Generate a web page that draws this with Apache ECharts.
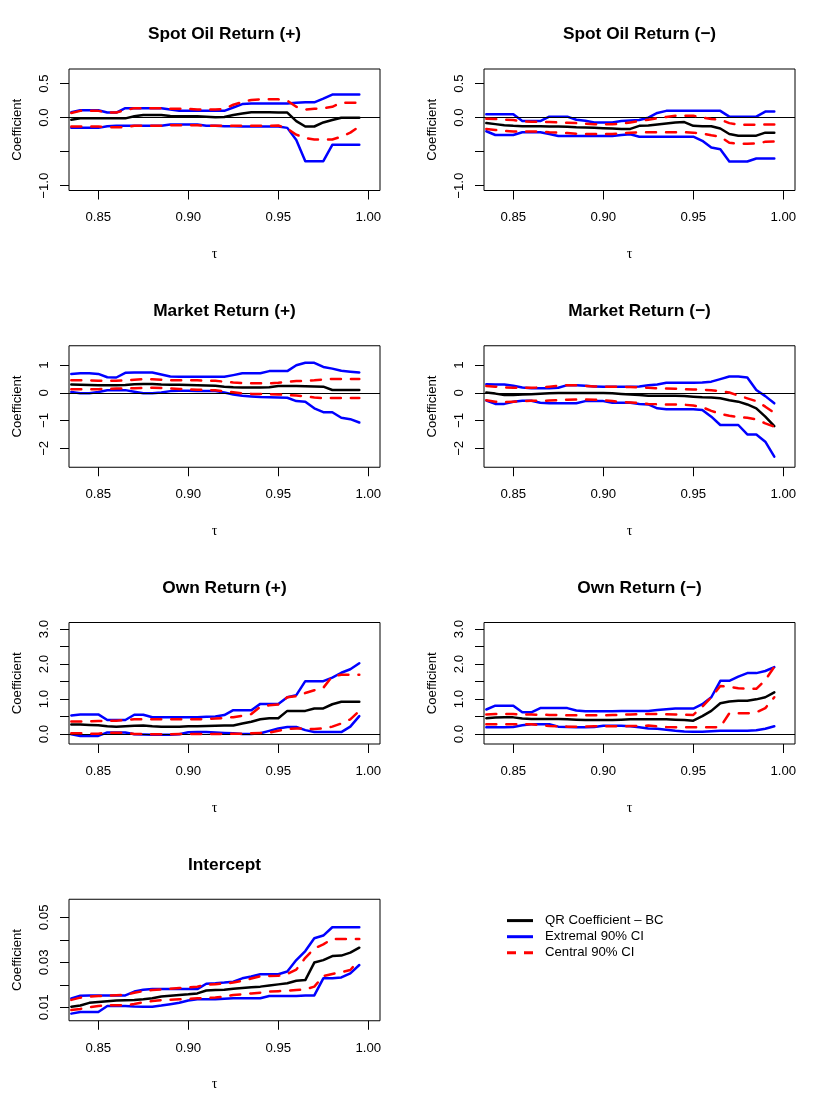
<!DOCTYPE html>
<html><head><meta charset="utf-8">
<script src="https://cdn.jsdelivr.net/npm/echarts@6/dist/echarts.min.js"></script>
<style>html,body{margin:0;padding:0;background:#fff}#c{width:830px;height:1107px}</style>
</head><body><div id="c"></div>
<script>
// ---------- data ----------
const tau = [0.835,0.84,0.845,0.85,0.855,0.86,0.865,0.87,0.875,0.88,0.885,0.89,0.895,0.90,0.905,0.91,0.915,0.92,0.925,0.93,0.935,0.94,0.945,0.95,0.955,0.96,0.965,0.97,0.975,0.98,0.985,0.99,0.995];
const xTicks = [0.85, 0.90, 0.95, 1.00];

// Spot Oil Return (+)
const spotPosCoef  = [-0.03,-0.01,-0.01,-0.01,-0.01,-0.01,-0.01,0.02,0.04,0.04,0.04,0.025,0.02,0.02,0.02,0.015,0.005,0.01,0.04,0.06,0.08,0.08,0.08,0.075,0.075,-0.05,-0.13,-0.13,-0.07,-0.035,0.0,0.0,0.0];
const spotPosExtHi = [0.08,0.11,0.11,0.11,0.075,0.075,0.14,0.14,0.14,0.14,0.14,0.12,0.10,0.10,0.10,0.10,0.10,0.10,0.15,0.20,0.21,0.21,0.21,0.21,0.21,0.22,0.225,0.225,0.28,0.34,0.34,0.34,0.34];
const spotPosExtLo = [-0.15,-0.15,-0.15,-0.15,-0.125,-0.12,-0.12,-0.12,-0.12,-0.12,-0.12,-0.10,-0.10,-0.10,-0.10,-0.12,-0.12,-0.125,-0.125,-0.13,-0.13,-0.13,-0.13,-0.13,-0.15,-0.33,-0.64,-0.64,-0.64,-0.40,-0.40,-0.40,-0.40];
const spotPosCenHi = [0.07,0.10,0.10,0.10,0.075,0.075,0.11,0.14,0.14,0.14,0.14,0.13,0.13,0.13,0.12,0.12,0.12,0.13,0.19,0.23,0.26,0.27,0.27,0.27,0.25,0.16,0.12,0.13,0.14,0.16,0.22,0.22,0.22];
const spotPosCenLo = [-0.13,-0.13,-0.13,-0.13,-0.14,-0.14,-0.14,-0.12,-0.12,-0.12,-0.12,-0.11,-0.11,-0.11,-0.11,-0.12,-0.12,-0.12,-0.12,-0.12,-0.12,-0.12,-0.12,-0.115,-0.16,-0.25,-0.30,-0.32,-0.32,-0.32,-0.28,-0.22,-0.13];

// Spot Oil Return (-)
const spotNegCoef  = [-0.08,-0.095,-0.11,-0.12,-0.125,-0.125,-0.127,-0.13,-0.13,-0.132,-0.14,-0.145,-0.15,-0.155,-0.16,-0.165,-0.165,-0.12,-0.115,-0.10,-0.085,-0.07,-0.065,-0.12,-0.125,-0.125,-0.16,-0.24,-0.265,-0.265,-0.265,-0.22,-0.22];
const spotNegExtHi = [0.05,0.05,0.05,0.05,-0.05,-0.05,-0.05,0.015,0.015,0.015,-0.03,-0.045,-0.07,-0.07,-0.07,-0.05,-0.04,-0.035,0.0,0.07,0.10,0.10,0.10,0.10,0.10,0.10,0.10,0.015,0.015,0.015,0.015,0.09,0.09];
const spotNegExtLo = [-0.20,-0.255,-0.255,-0.255,-0.215,-0.215,-0.215,-0.24,-0.27,-0.27,-0.27,-0.27,-0.27,-0.27,-0.27,-0.255,-0.245,-0.28,-0.28,-0.28,-0.28,-0.28,-0.28,-0.28,-0.34,-0.44,-0.465,-0.645,-0.645,-0.645,-0.60,-0.60,-0.60];
const spotNegCenHi = [-0.015,-0.02,-0.03,-0.035,-0.055,-0.06,-0.06,-0.065,-0.07,-0.075,-0.08,-0.09,-0.095,-0.095,-0.095,-0.09,-0.07,-0.05,-0.03,-0.01,0.01,0.03,0.03,0.03,0.0,-0.02,-0.03,-0.08,-0.105,-0.105,-0.105,-0.10,-0.10];
const spotNegCenLo = [-0.165,-0.18,-0.195,-0.205,-0.205,-0.205,-0.205,-0.215,-0.22,-0.225,-0.235,-0.24,-0.24,-0.24,-0.24,-0.23,-0.22,-0.215,-0.215,-0.215,-0.215,-0.215,-0.215,-0.22,-0.235,-0.26,-0.28,-0.37,-0.385,-0.385,-0.38,-0.355,-0.35];

// Market Return (+)
const mktPosCoef  = [0.30,0.29,0.28,0.275,0.275,0.275,0.28,0.31,0.32,0.32,0.30,0.29,0.285,0.28,0.275,0.265,0.25,0.22,0.20,0.19,0.19,0.19,0.20,0.24,0.24,0.24,0.235,0.23,0.22,0.10,0.10,0.10,0.10];
const mktPosExtHi = [0.68,0.70,0.70,0.68,0.56,0.55,0.72,0.73,0.73,0.73,0.66,0.585,0.58,0.58,0.58,0.575,0.575,0.575,0.635,0.70,0.70,0.70,0.78,0.78,0.78,0.99,1.08,1.08,0.93,0.87,0.79,0.76,0.73];
const mktPosExtLo = [0.03,-0.02,-0.02,0.03,0.09,0.095,0.095,0.04,-0.02,-0.02,0.01,0.06,0.07,0.07,0.06,0.06,0.06,0.01,-0.06,-0.11,-0.13,-0.155,-0.16,-0.17,-0.18,-0.30,-0.32,-0.56,-0.70,-0.70,-0.90,-0.95,-1.07];
const mktPosCenHi = [0.45,0.45,0.45,0.43,0.43,0.43,0.45,0.47,0.49,0.49,0.47,0.45,0.45,0.45,0.45,0.44,0.43,0.40,0.37,0.35,0.34,0.34,0.34,0.36,0.40,0.42,0.43,0.45,0.48,0.50,0.50,0.50,0.50];
const mktPosCenLo = [0.13,0.13,0.13,0.13,0.14,0.155,0.16,0.165,0.175,0.18,0.17,0.16,0.14,0.125,0.11,0.10,0.09,0.05,0.02,-0.02,-0.04,-0.045,-0.05,-0.06,-0.08,-0.10,-0.13,-0.17,-0.19,-0.19,-0.19,-0.19,-0.19];

// Market Return (-)
const mktNegCoef  = [0.01,-0.03,-0.08,-0.08,-0.06,-0.05,-0.035,-0.02,-0.01,-0.01,-0.01,-0.01,-0.01,-0.01,-0.02,-0.04,-0.06,-0.08,-0.11,-0.11,-0.11,-0.11,-0.12,-0.14,-0.165,-0.17,-0.20,-0.27,-0.32,-0.42,-0.56,-0.86,-1.20];
const mktNegExtHi = [0.31,0.30,0.30,0.25,0.19,0.16,0.16,0.16,0.18,0.275,0.275,0.25,0.23,0.215,0.215,0.215,0.215,0.23,0.27,0.30,0.36,0.36,0.36,0.36,0.37,0.40,0.49,0.585,0.585,0.55,0.10,-0.12,-0.38];
const mktNegExtLo = [-0.28,-0.40,-0.40,-0.32,-0.29,-0.29,-0.36,-0.38,-0.38,-0.38,-0.38,-0.30,-0.30,-0.30,-0.36,-0.36,-0.36,-0.40,-0.42,-0.56,-0.59,-0.59,-0.59,-0.59,-0.62,-0.86,-1.16,-1.16,-1.16,-1.50,-1.50,-1.76,-2.30];
const mktNegCenHi = [0.24,0.22,0.19,0.18,0.18,0.18,0.19,0.22,0.25,0.275,0.27,0.25,0.23,0.215,0.215,0.215,0.21,0.195,0.18,0.165,0.155,0.145,0.13,0.12,0.11,0.095,0.06,0.01,-0.10,-0.20,-0.30,-0.50,-0.72];
const mktNegCenLo = [-0.27,-0.32,-0.34,-0.32,-0.30,-0.29,-0.29,-0.28,-0.27,-0.25,-0.24,-0.24,-0.25,-0.27,-0.30,-0.33,-0.35,-0.37,-0.40,-0.41,-0.42,-0.42,-0.43,-0.46,-0.52,-0.65,-0.76,-0.83,-0.88,-0.90,-0.96,-1.10,-1.22];

// Own Return (+)
const ownPosCoef  = [0.27,0.27,0.26,0.25,0.22,0.21,0.22,0.235,0.24,0.22,0.21,0.21,0.21,0.22,0.22,0.225,0.235,0.24,0.245,0.30,0.35,0.42,0.45,0.45,0.66,0.66,0.66,0.73,0.73,0.85,0.92,0.92,0.92];
const ownPosExtHi = [0.53,0.56,0.56,0.56,0.40,0.40,0.40,0.55,0.55,0.48,0.48,0.48,0.48,0.48,0.48,0.49,0.50,0.54,0.68,0.68,0.68,0.86,0.86,0.86,1.05,1.11,1.51,1.51,1.51,1.61,1.75,1.85,2.02];
const ownPosExtLo = [-0.01,-0.055,-0.055,-0.055,0.045,0.045,0.045,-0.01,-0.015,-0.02,-0.02,-0.02,-0.01,0.05,0.055,0.055,0.04,0.03,0.02,0.0,0.0,0.02,0.09,0.16,0.20,0.20,0.11,0.055,0.055,0.055,0.055,0.21,0.51];
const ownPosCenHi = [0.36,0.36,0.36,0.37,0.38,0.38,0.40,0.42,0.42,0.42,0.42,0.42,0.42,0.42,0.42,0.43,0.44,0.46,0.48,0.52,0.57,0.78,0.82,0.84,1.05,1.08,1.17,1.25,1.32,1.65,1.69,1.69,1.69];
const ownPosCenLo = [0.02,0.02,0.01,0.01,0.035,0.035,0.035,0.0,0.0,-0.01,-0.01,-0.01,0.0,0.0,0.0,0.0,0.0,0.005,0.01,0.01,0.02,0.03,0.04,0.09,0.14,0.16,0.155,0.14,0.16,0.21,0.30,0.42,0.66];

// Own Return (-)
const ownNegCoef  = [0.45,0.47,0.475,0.475,0.44,0.43,0.43,0.43,0.43,0.42,0.41,0.40,0.40,0.40,0.40,0.41,0.42,0.42,0.42,0.42,0.42,0.41,0.40,0.38,0.51,0.66,0.88,0.93,0.95,0.95,0.99,1.05,1.19];
const ownNegExtHi = [0.70,0.81,0.81,0.81,0.62,0.62,0.74,0.74,0.74,0.74,0.67,0.65,0.65,0.65,0.65,0.655,0.655,0.655,0.655,0.685,0.71,0.725,0.725,0.725,0.85,1.05,1.52,1.52,1.64,1.74,1.74,1.80,1.91];
const ownNegExtLo = [0.19,0.19,0.19,0.20,0.25,0.28,0.28,0.28,0.21,0.20,0.19,0.19,0.20,0.235,0.235,0.235,0.22,0.19,0.16,0.15,0.12,0.09,0.07,0.065,0.065,0.08,0.09,0.09,0.09,0.09,0.11,0.15,0.22];
const ownNegCenHi = [0.56,0.57,0.57,0.57,0.555,0.555,0.55,0.545,0.54,0.535,0.535,0.535,0.535,0.535,0.54,0.55,0.56,0.565,0.57,0.57,0.565,0.56,0.55,0.545,0.78,1.05,1.37,1.35,1.31,1.29,1.29,1.54,1.92];
const ownNegCenLo = [0.28,0.28,0.28,0.28,0.28,0.275,0.25,0.23,0.22,0.21,0.21,0.21,0.22,0.225,0.22,0.22,0.225,0.23,0.24,0.22,0.20,0.19,0.19,0.19,0.19,0.19,0.20,0.59,0.59,0.59,0.62,0.74,1.05];

// Intercept
const intCoef  = [0.0103,0.0108,0.0120,0.0124,0.0127,0.0130,0.0132,0.0133,0.0136,0.0140,0.0148,0.0152,0.0155,0.0158,0.0162,0.0175,0.0177,0.0178,0.0183,0.0186,0.0189,0.0192,0.0197,0.0202,0.0207,0.0218,0.0221,0.0299,0.0310,0.0328,0.0330,0.0343,0.0365];
const intExtHi = [0.0140,0.0152,0.0153,0.0153,0.0153,0.0153,0.0153,0.0170,0.0178,0.0181,0.0181,0.0181,0.0181,0.0181,0.0181,0.0205,0.0207,0.0210,0.0214,0.0229,0.0237,0.0247,0.0247,0.0247,0.0259,0.0310,0.0350,0.0407,0.0419,0.0456,0.0456,0.0456,0.0456];
const intExtLo = [0.0072,0.0079,0.0079,0.0079,0.0106,0.0106,0.0106,0.0104,0.0103,0.0103,0.0108,0.0114,0.0120,0.0130,0.0136,0.0136,0.0136,0.0138,0.0140,0.0140,0.0140,0.0140,0.0150,0.0150,0.0150,0.0150,0.0153,0.0153,0.0229,0.0229,0.0233,0.0251,0.0288];
const intCenHi = [0.0133,0.0143,0.0148,0.0150,0.0152,0.0154,0.0155,0.0165,0.0172,0.0177,0.0180,0.0183,0.0186,0.0189,0.0192,0.0200,0.0203,0.0206,0.0210,0.0218,0.0228,0.0238,0.0239,0.0240,0.0248,0.0268,0.0320,0.0362,0.0380,0.0404,0.0404,0.0404,0.0404];
const intCenLo = [0.0088,0.0093,0.0100,0.0106,0.0109,0.0109,0.0109,0.0115,0.0122,0.0128,0.0132,0.0134,0.0136,0.0137,0.0140,0.0142,0.0144,0.0147,0.0155,0.0158,0.0162,0.0165,0.0170,0.0172,0.0174,0.0177,0.0180,0.0192,0.0239,0.0248,0.0256,0.0266,0.0310];

// y-axis tick / label values
const spotTicks = [-1, -0.5, 0, 0.5],       spotLabels = [-1, 0, 0.5];
const mktTicks  = [-2, -1, 0, 1],           mktLabels  = [-2, -1, 0, 1];
const ownTicks  = [0, 0.5, 1, 1.5, 2, 2.5, 3], ownLabels = [0, 1, 2, 3];
const intTicks  = [0.01, 0.02, 0.03, 0.04, 0.05], intLabels = [0.01, 0.03, 0.05];

const titles = ['Spot Oil Return (+)', 'Spot Oil Return (\u2212)', 'Market Return (+)', 'Market Return (\u2212)', 'Own Return (+)', 'Own Return (\u2212)', 'Intercept'];
const legendNames = ['QR Coefficient \u2013 BC', 'Extremal 90% CI', 'Central 90% CI'];

// ---------- layout / styling ----------
const FONT = '"Liberation Sans", Arial, Helvetica, sans-serif';
const colLeft = [69, 484];
const rowTop = [69, 345.75, 622.5, 899.25];
const boxW = 311, boxH = 121.5;
const xMin = 0.83372, xMax = 1.0065;

const yCfg = {
  spot: {min: -1.071, max: 0.7157, ticks: spotTicks, labels: spotLabels, dec: 1, zero: true},
  mkt:  {min: -2.681, max: 1.693,  ticks: mktTicks,  labels: mktLabels,  dec: 0, zero: true},
  own:  {min: -0.286, max: 3.186,  ticks: ownTicks,  labels: ownLabels,  dec: 1, zero: true},
  int:  {min: 0.004036, max: 0.05804, ticks: intTicks, labels: intLabels, dec: 2, zero: false}
};

const panels = [
  {y: 'spot', lines: [spotPosCoef, spotPosExtHi, spotPosExtLo, spotPosCenHi, spotPosCenLo]},
  {y: 'spot', lines: [spotNegCoef, spotNegExtHi, spotNegExtLo, spotNegCenHi, spotNegCenLo]},
  {y: 'mkt',  lines: [mktPosCoef, mktPosExtHi, mktPosExtLo, mktPosCenHi, mktPosCenLo]},
  {y: 'mkt',  lines: [mktNegCoef, mktNegExtHi, mktNegExtLo, mktNegCenHi, mktNegCenLo]},
  {y: 'own',  lines: [ownPosCoef, ownPosExtHi, ownPosExtLo, ownPosCenHi, ownPosCenLo]},
  {y: 'own',  lines: [ownNegCoef, ownNegExtHi, ownNegExtLo, ownNegCenHi, ownNegCenLo]},
  {y: 'int',  lines: [intCoef, intExtHi, intExtLo, intCenHi, intCenLo]}
];

function fmt(v, dec) {
  const s = Math.abs(v).toFixed(dec);
  return (v < -1e-12 ? '\u2212' : '') + s;
}

const grids = [], xAxes = [], yAxes = [], series = [], graphics = [];
const lineKinds = [
  {name: legendNames[0], color: '#000000', type: 'solid'},
  {name: legendNames[1], color: '#0000FF', type: 'solid'},
  {name: legendNames[1], color: '#0000FF', type: 'solid'},
  {name: legendNames[2], color: '#FF0000', type: [10, 10]},
  {name: legendNames[2], color: '#FF0000', type: [10, 10]}
];

panels.forEach((p, i) => {
  const col = i % 2, row = Math.floor(i / 2);
  const left = colLeft[col], top = rowTop[row];
  const yc = yCfg[p.y];
  grids.push({left: left, top: top, width: boxW, height: boxH, show: true,
    borderColor: '#000', borderWidth: 1, backgroundColor: 'transparent', containLabel: false});
  xAxes.push({
    type: 'value', gridIndex: i, min: xMin, max: xMax, position: 'bottom',
    axisLine: {show: false, onZero: false}, splitLine: {show: false},
    axisTick: {show: true, length: 9, customValues: xTicks, lineStyle: {color: '#000', width: 1}},
    axisLabel: {show: true, customValues: xTicks, formatter: v => v.toFixed(2), color: '#000',
      fontFamily: FONT, fontSize: 13.2, lineHeight: 13, margin: 20.8},
    name: '\u03c4', nameLocation: 'middle', nameGap: 57.5,
    nameTextStyle: {fontFamily: '"Liberation Serif", "DejaVu Serif", serif', fontSize: 14, color: '#000', lineHeight: 13, padding: [0, 20, 0, 0]}
  });
  yAxes.push({
    type: 'value', gridIndex: i, min: yc.min, max: yc.max, position: 'left',
    axisLine: {show: false, onZero: false}, splitLine: {show: false},
    axisTick: {show: true, length: 9, customValues: yc.ticks, lineStyle: {color: '#000', width: 1}},
    axisLabel: {show: true, customValues: yc.labels, rotate: 90, formatter: v => fmt(v, yc.dec), color: '#000',
      fontFamily: FONT, fontSize: 13.2, lineHeight: 13, margin: 18.5},
    name: 'Coefficient', nameLocation: 'middle', nameGap: 45.5,
    nameTextStyle: {fontFamily: FONT, fontSize: 13.2, color: '#000', lineHeight: 13}
  });
  p.lines.forEach((arr, k) => {
    const kind = lineKinds[k];
    const s = {
      type: 'line', name: kind.name, xAxisIndex: i, yAxisIndex: i,
      data: tau.map((t, j) => [t, arr[j]]),
      showSymbol: false, symbol: 'none', silent: true, clip: true,
      color: kind.color,
      lineStyle: {color: kind.color, width: 2.5, type: kind.type, cap: 'round', join: 'round'},
      z: 2 + k
    };
    if (k === 0 && yc.zero) {
      s.markLine = {silent: true, symbol: 'none', label: {show: false},
        lineStyle: {color: '#000', width: 1.2, type: 'solid'}, data: [{yAxis: 0}], animation: false};
    }
    series.push(s);
  });
  graphics.push({
    type: 'text', x: left + boxW / 2, y: top - 34.5,
    style: {text: titles[i], fontFamily: FONT, fontSize: 17.3, fontWeight: 'bold', fill: '#000',
      align: 'center', verticalAlign: 'middle'}
  });
});

const chart = echarts.init(document.getElementById('c'), null, {renderer: 'canvas'});
chart.setOption({
  animation: false,
  backgroundColor: '#ffffff',
  grid: grids, xAxis: xAxes, yAxis: yAxes, series: series, graphic: graphics,
  legend: {
    orient: 'vertical', left: 507, top: 914.1, padding: 0,
    itemWidth: 26, itemHeight: 3, itemGap: 3.1, selectedMode: false,
    itemStyle: {borderWidth: 0},
    textStyle: {fontFamily: FONT, fontSize: 13.2, color: '#000', padding: [0, 0, 0, 7]},
    data: [
      {name: legendNames[0], icon: 'rect'},
      {name: legendNames[1], icon: 'rect'},
      {name: legendNames[2], icon: 'path://M0,0h9v3h-9z M17,0h9v3h-9z'}
    ]
  }
});
</script></body></html>
